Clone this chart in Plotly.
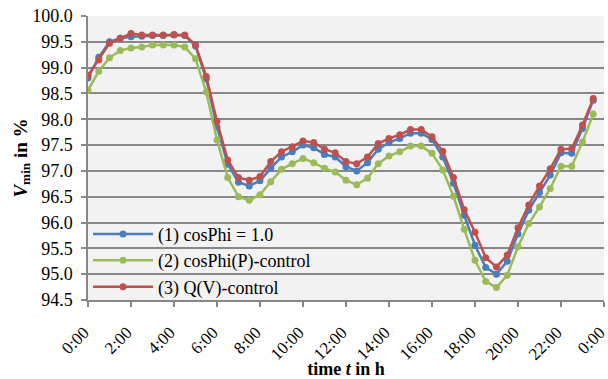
import plotly.graph_objects as go

hours = [i * 0.5 for i in range(48)]
tick_vals = list(range(0, 25, 2))
tick_text = ["0:00", "2:00", "4:00", "6:00", "8:00", "10:00", "12:00",
             "14:00", "16:00", "18:00", "20:00", "22:00", "0:00"]

cosphi_1 = [98.80, 99.20, 99.50, 99.57, 99.60, 99.61, 99.62, 99.62, 99.63, 99.62,
            99.42, 98.78, 97.85, 97.13, 96.78, 96.71, 96.81, 97.05, 97.27, 97.37,
            97.50, 97.45, 97.32, 97.27, 97.08, 97.00, 97.16, 97.42, 97.55, 97.63,
            97.73, 97.73, 97.61, 97.27, 96.76, 96.14, 95.56, 95.13, 95.00, 95.25,
            95.78, 96.24, 96.58, 96.92, 97.35, 97.34, 97.82, 98.37]
cosphi_p = [98.56, 98.93, 99.19, 99.33, 99.38, 99.40, 99.44, 99.44, 99.44, 99.40,
            99.17, 98.53, 97.60, 96.87, 96.50, 96.43, 96.54, 96.79, 97.03, 97.14,
            97.24, 97.16, 97.05, 96.98, 96.82, 96.73, 96.86, 97.14, 97.29, 97.37,
            97.48, 97.48, 97.34, 97.02, 96.51, 95.87, 95.27, 94.86, 94.74, 94.98,
            95.53, 95.98, 96.30, 96.66, 97.09, 97.09, 97.56, 98.10]
qv_ctrl = [98.85, 99.15, 99.47, 99.57, 99.66, 99.63, 99.63, 99.63, 99.64, 99.63,
           99.44, 98.83, 97.96, 97.21, 96.87, 96.82, 96.89, 97.18, 97.37, 97.47,
           97.58, 97.55, 97.42, 97.35, 97.18, 97.14, 97.27, 97.53, 97.63, 97.70,
           97.80, 97.80, 97.66, 97.38, 96.87, 96.25, 95.81, 95.32, 95.14, 95.37,
           95.90, 96.34, 96.71, 97.04, 97.42, 97.43, 97.89, 98.40]

series_names = ["(1) cosPhi = 1.0", "(2) cosPhi(P)-control", "(3) Q(V)-control"]
series_colors = ["#4A7EBB", "#9BBB59", "#C0504D"]
series_values = [cosphi_1, cosphi_p, qv_ctrl]

FONT = "Liberation Serif, Times New Roman, serif"
GRID = "#878787"

fig = go.Figure()
for name, color, vals in zip(series_names, series_colors, series_values):
    fig.add_trace(go.Scatter(
        x=hours, y=vals, name=name, mode="lines+markers",
        line=dict(color=color, width=2.5),
        marker=dict(color=color, size=7),
    ))

fig.update_layout(
    width=608, height=379,
    margin=dict(l=88, r=4, t=16, b=79, autoexpand=False),
    paper_bgcolor="white",
    plot_bgcolor="#F2F2F2",
    font=dict(family=FONT, size=18, color="black"),
    showlegend=True,
    legend=dict(x=0.0, y=-0.02, xanchor="left", yanchor="bottom",
                bgcolor="rgba(0,0,0,0)", font=dict(size=18, family=FONT),
                itemwidth=60, tracegroupgap=0),
)

fig.update_xaxes(
    range=[0, 24.001], tickmode="array", tickvals=tick_vals, ticktext=tick_text,
    tickangle=-45, showgrid=False, zeroline=False,
    showline=True, linecolor=GRID, linewidth=1.5,
    ticks="outside", ticklen=5, tickcolor=GRID, tickwidth=1.5,
    tickfont=dict(size=17, family=FONT),
    ticklabeloverflow="allow", ticklabelstandoff=9, ticklabelshift=-4,
    title=dict(text="<b>time <i>t</i> in h</b>", font=dict(size=18, family=FONT), standoff=0),
)
fig.update_yaxes(
    range=[94.5, 100.0], dtick=0.5, tick0=94.5, tickformat=".1f",
    showgrid=True, gridcolor=GRID, gridwidth=1.5, zeroline=False,
    showline=True, linecolor=GRID, linewidth=1.5,
    ticks="outside", ticklen=5, tickcolor=GRID, tickwidth=1.5,
    tickfont=dict(size=18, family=FONT), ticklabelstandoff=5,
    title=dict(text="<b><i>V</i><sub>min</sub> in %</b>", font=dict(size=19, family=FONT), standoff=0),
)

fig.write_html("out.html", config={"displayModeBar": False},
               post_script="document.body.style.margin='0';")
